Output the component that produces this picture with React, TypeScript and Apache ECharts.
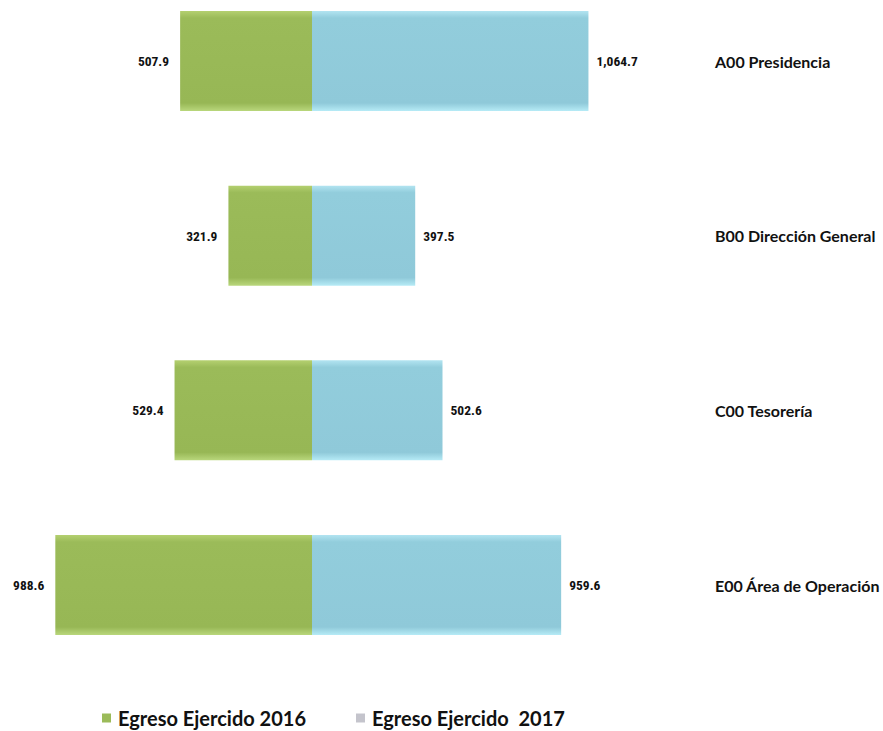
import React, { useEffect, useRef } from "react";
import * as echarts from "echarts";

const categories = ["A00 Presidencia", "B00 Dirección General", "C00 Tesorería", "E00 Área de Operación"];
const egreso2016 = [507.9, 321.9, 529.4, 988.6];
const egreso2017 = [1064.7, 397.5, 502.6, 959.6];
const seriesNames = ["Egreso Ejercido 2016", "Egreso Ejercido  2017"];

const fmt = (v: number) =>
  Math.abs(v).toLocaleString("en-US", { minimumFractionDigits: 1, maximumFractionDigits: 1 });

export default function App() {
  const ref = useRef<HTMLDivElement>(null);
  useEffect(() => {
    if (!ref.current) return;
    const chart = echarts.init(ref.current, null, { renderer: "svg" });
    const valueFont = "'Liberation Sans Narrow', 'Arial Narrow', 'Roboto Condensed', sans-serif";
    const green = new echarts.graphic.LinearGradient(0, 0, 0, 1, [
      { offset: 0, color: "#b4d070" },
      { offset: 0.07, color: "#9bbb59" },
      { offset: 0.92, color: "#97b755" },
      { offset: 1, color: "#b9d77c" },
    ]);
    const blue = new echarts.graphic.LinearGradient(0, 0, 0, 1, [
      { offset: 0, color: "#b2e4f1" },
      { offset: 0.07, color: "#92cddc" },
      { offset: 0.92, color: "#8fc9d9" },
      { offset: 1, color: "#b6ebf6" },
    ]);
    chart.setOption({
      animation: false,
      backgroundColor: "#ffffff",
      grid: { left: 16, right: 275, top: 61, bottom: 146, containLabel: false },
      xAxis: {
        type: "value",
        min: -1140,
        max: 1140,
        show: false,
        splitLine: { show: false },
      },
      yAxis: {
        type: "category",
        data: categories,
        inverse: true,
        position: "right",
        boundaryGap: false,
        axisLine: { show: false },
        axisTick: { show: false },
        splitLine: { show: false },
        axisLabel: {
          margin: 107,
          align: "left",
          color: "#111",
          fontWeight: "bold",
          fontSize: 16,
          fontFamily: "Lato, 'Open Sans', sans-serif",
        },
      },
      legend: {
        top: 703,
        left: 97,
        itemWidth: 9,
        itemHeight: 9,
        itemGap: 50,
        icon: "rect",
        textStyle: {
          fontSize: 20,
          fontWeight: "bold",
          color: "#111",
          fontFamily: "Lato, 'Open Sans', sans-serif",
          padding: [0, 0, 0, 2],
        },
        data: [
          { name: seriesNames[0], itemStyle: { color: "#9bbb59" } },
          { name: seriesNames[1], itemStyle: { color: "#c4c4cc" } },
        ],
      },
      series: [
        {
          name: seriesNames[0],
          type: "bar",
          stack: "total",
          barWidth: 100,
          data: egreso2016.map((v) => -v),
          itemStyle: { color: green },
          label: {
            show: true,
            position: "left",
            distance: 11,
            formatter: (p: any) => fmt(p.value),
            color: "#111",
            fontSize: 13.5,
            fontWeight: "bold",
            fontFamily: valueFont,
          },
        },
        {
          name: seriesNames[1],
          type: "bar",
          stack: "total",
          barWidth: 100,
          data: egreso2017,
          itemStyle: { color: blue },
          label: {
            show: true,
            position: "right",
            distance: 8,
            formatter: (p: any) => fmt(p.value),
            color: "#111",
            fontSize: 13.5,
            fontWeight: "bold",
            fontFamily: valueFont,
          },
        },
      ],
    });
    return () => chart.dispose();
  }, []);
  return (
    <div
      ref={ref}
      style={{ position: "fixed", left: 0, top: 0, width: 883, height: 731 }}
    />
  );
}
